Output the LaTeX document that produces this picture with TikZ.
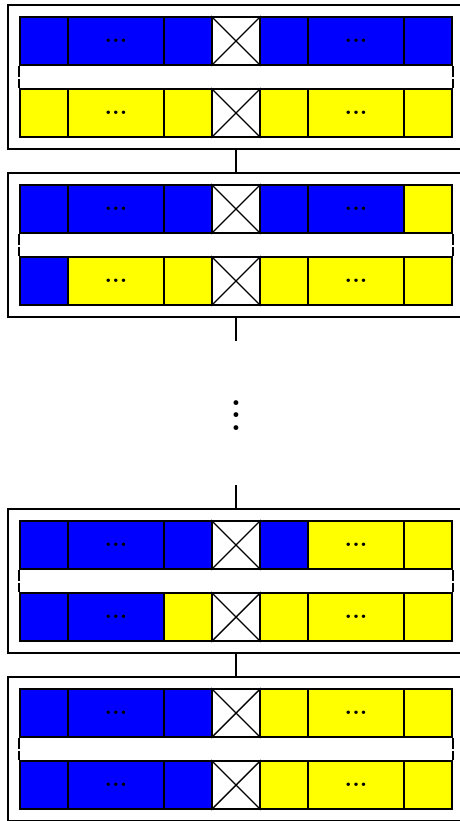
\documentclass[tikz,border=0pt]{standalone}
\usetikzlibrary{positioning}

\definecolor{cellblue}{RGB}{0,0,255}
\definecolor{cellyellow}{RGB}{255,255,0}

\tikzstyle{frame} = [draw,line width=1.8pt,minimum width=456pt,minimum height=144pt,inner sep=0pt]
\tikzstyle{cell} = [draw,line width=1.8pt,minimum height=48pt,inner sep=0pt,font=\fontsize{24}{26}\selectfont\bfseries]
\tikzstyle{swap} = [cell,fill=white,minimum width=48pt]
\tikzstyle{link} = [draw,line width=1.8pt,-]
\tikzstyle{gap} = [draw,line width=1.8pt,dash pattern=on 11pt off 2pt]

\begin{document}
\begin{tikzpicture}[x=1pt,y=-1pt]
      \useasboundingbox (0,0) rectangle (459,821);
      % blocks: offset, number of blue cells in upper and lower row
      \foreach \blk/\off/\ntop/\nbot in {0/0/6/0, 1/168/5/1, 3/504/4/2, 4/672/3/3}
      {
        \node[frame] (b\blk) at (236,77+\off) {};
        \foreach \row/\cy/\nb in {t/41/\ntop, b/113/\nbot}
        {
          \foreach \cx/\cw/\txt [count=\i] in {44/48/{}, 116/96/{...}, 188/48/{}, 284/48/{}, 356/96/{...}, 428/48/{}}
          {
            \ifnum\i>\nb \def\fillcol{cellyellow}\else\def\fillcol{cellblue}\fi
            \node[cell, fill=\fillcol, minimum width=\cw pt] (b\blk\row\i) at (\cx,\cy+\off) {\txt};
          };
          \node[swap] (b\blk\row x) at (236,\cy+\off) {};
          \draw[line width=1.4pt] (b\blk\row x.north west) -- (b\blk\row x.south east)
            (b\blk\row x.south west) -- (b\blk\row x.north east);
        };
        \path[gap] (b\blk t1.south west) -- (b\blk b1.north west)
          (b\blk t6.south east) -- (b\blk b6.north east);
      };
      % skipped blocks
      \coordinate (gapa) at (236,341);
      \coordinate (gapb) at (236,485);
      \node[scale=3.1,font=\bfseries] (dots) at (236,406) {$\vdots$};
      %edges
      \path[link] (b0.south) -- (b1.north)
        (b1.south) -- (gapa)
        (gapb) -- (b3.north)
        (b3.south) -- (b4.north);
\end{tikzpicture}
\end{document}
